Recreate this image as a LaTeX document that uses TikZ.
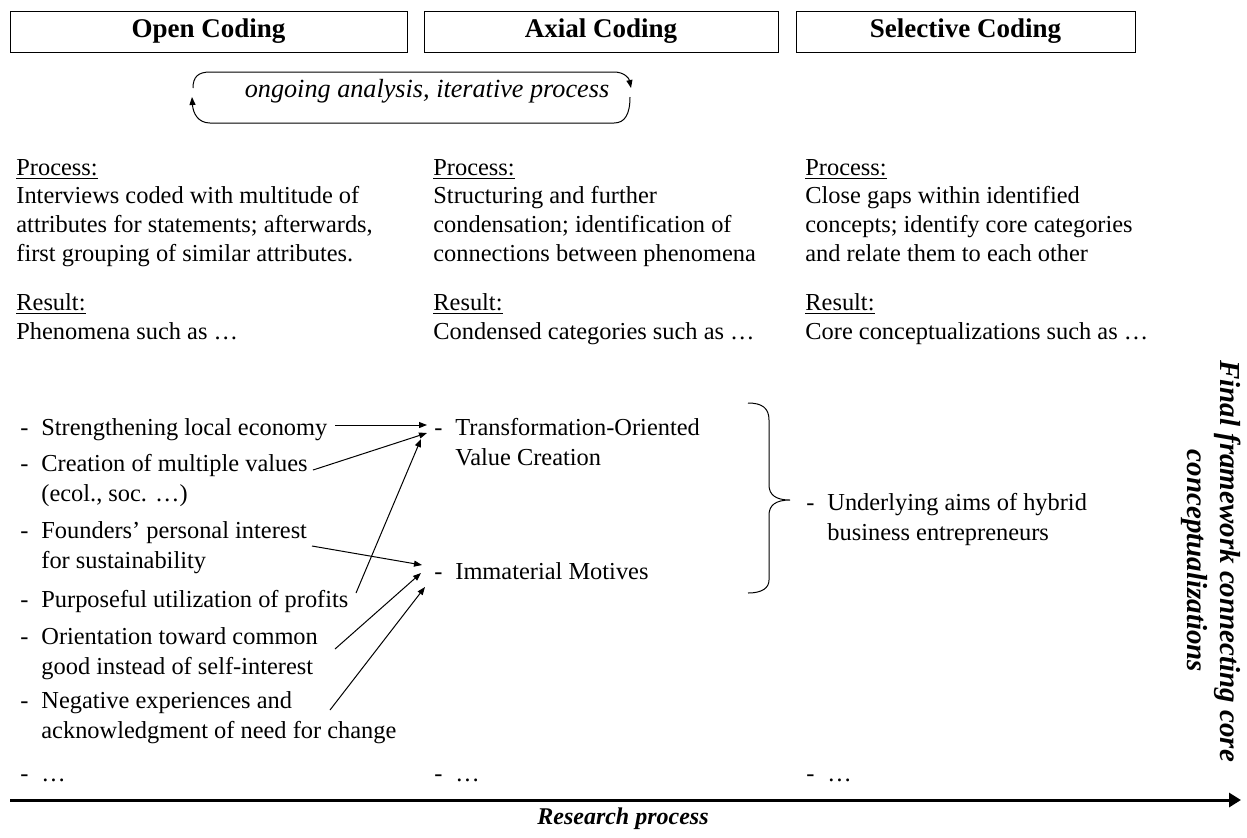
\documentclass[tikz,border=0pt]{standalone}
\usepackage{fontspec}
\setmainfont{Liberation Serif}
\usetikzlibrary{arrows.meta}
\newcommand{\dsh}{\makebox[10.5pt][l]{-}}
\newcommand{\ind}{\hspace*{10.5pt}}
\begin{document}
\begin{tikzpicture}[x=0.5pt,y=-0.5pt,
  hdr/.style={draw,line width=0.5pt,inner sep=0pt,minimum height=20.5pt,font=\fontsize{13.5}{16}\selectfont\bfseries},
  txt/.style={anchor=base west,inner sep=0pt,align=left,font=\fontsize{12.2}{14.3}\selectfont},
  lst/.style={anchor=base west,inner sep=0pt,align=left,font=\fontsize{12.2}{14.6}\selectfont},
  arr/.style={-{Triangle[length=4pt,width=3pt]},line width=0.5pt},
  cyc/.style={-{Triangle[length=4pt,width=3pt]},line width=0.5pt},
  brc/.style={line width=0.5pt},
  bigarr/.style={line width=1.5pt,-{Triangle[length=6pt,width=7pt]}},
]
\useasboundingbox (0,0) rectangle (1247,837);

% headers
\node[hdr,minimum width=198.5pt] (h1) at (208.5,31.5) {Open Coding};
\node[hdr,minimum width=177pt] (h2) at (601,31.5) {Axial Coding};
\node[hdr,minimum width=169.5pt] (h3) at (965.5,31.5) {Selective Coding};

% iterative loop
\node[anchor=base,inner sep=0pt,font=\fontsize{13.1}{15}\selectfont\itshape] (loop) at (427,97) {ongoing analysis, iterative process};
\coordinate (lt1) at (193,88);
\coordinate (lt2) at (631,88);
\coordinate (lb1) at (630,97);
\coordinate (lb2) at (192,97);
\draw[cyc] (lt1) .. controls (193,77) and (198,72) .. (210,72) -- (614,72) .. controls (624,72) and (629,78) .. (lt2);
\draw[cyc] (lb1) .. controls (630,114) and (625,123) .. (614,123) -- (210,123) .. controls (198,123) and (193,113) .. (lb2);

% process (anchor = baseline of last line)
\node[txt] (p1) at (16,261) {\underline{Process:}\\Interviews coded with multitude of\\attributes for statements; afterwards,\\first grouping of similar attributes.};
\node[txt] (p2) at (433,261) {\underline{Process:}\\Structuring and further\\condensation; identification of\\connections between phenomena};
\node[txt] (p3) at (805,261) {\underline{Process:}\\Close gaps within identified\\concepts; identify core categories\\and relate them to each other};

% result
\node[txt] (r1) at (16,339) {\underline{Result:}\\Phenomena such as …};
\node[txt] (r2) at (433,339) {\underline{Result:}\\Condensed categories such as …};
\node[txt] (r3) at (805,339) {\underline{Result:}\\Core conceptualizations such as …};

% open coding items
\node[lst] (o1) at (20,435) {\dsh Strengthening local economy};
\node[lst] (o2) at (20,501) {\dsh Creation of multiple values\\\ind (ecol., soc. …)};
\node[lst] (o3) at (20,568) {\dsh Founders’ personal interest\\\ind for sustainability};
\node[lst] (o4) at (20,607) {\dsh Purposeful utilization of profits};
\node[lst] (o5) at (20,674) {\dsh Orientation toward common\\\ind good instead of self-interest};
\node[lst] (o6) at (20,738) {\dsh Negative experiences and\\\ind acknowledgment of need for change};
\node[lst] (o7) at (20,781) {\dsh …};

% axial items
\node[lst] (a1) at (434,465) {\dsh Transformation-Oriented\\\ind Value Creation};
\node[lst] (a2) at (434,579) {\dsh Immaterial Motives};
\node[lst] (a3) at (434,781) {\dsh …};

% selective items
\node[lst] (s1) at (806,540) {\dsh Underlying aims of hybrid\\\ind business entrepreneurs};
\node[lst] (s2) at (806,781) {\dsh …};

% arrow coordinates
\coordinate (f1) at (335,425);
\coordinate (f2) at (313,470);
\coordinate (f3) at (312,546);
\coordinate (f4) at (356,593);
\coordinate (f5) at (335,649);
\coordinate (f6) at (330,710);
\coordinate (t1) at (427,425);
\coordinate (t2) at (427,433);
\coordinate (t4) at (421,439);
\coordinate (t3) at (422,565);
\coordinate (t5) at (421,573);
\coordinate (t6) at (425,587);
\draw[arr] (f1) -- (t1);
\draw[arr] (f2) -- (t2);
\draw[arr] (f3) -- (t3);
\draw[arr] (f4) -- (t4);
\draw[arr] (f5) -- (t5);
\draw[arr] (f6) -- (t6);

% brace
\coordinate (bt) at (748,403);
\coordinate (bm) at (790,500);
\coordinate (bb) at (748,593);
\draw[brc] (bt) .. controls (762,403) and (769,408) .. (769,420) -- (769,485) .. controls (769,495) and (776,500) .. (bm)
  .. controls (776,500) and (769,505) .. (769,515) -- (769,580) .. controls (769,588) and (762,593) .. (bb);

% vertical label
\node[rotate=-90,inner sep=0pt,align=center,font=\fontsize{14.5}{16.5}\selectfont\bfseries\itshape] (fin) at (1211,561) {Final framework connecting core\\conceptualizations};

% research process axis
\coordinate (rs) at (10,800);
\coordinate (re) at (1241,800);
\draw[bigarr] (rs) -- (re);
\node[anchor=base,inner sep=0pt,font=\fontsize{12}{14}\selectfont\bfseries\itshape] (rp) at (623,824) {Research process};
\end{tikzpicture}
\end{document}
